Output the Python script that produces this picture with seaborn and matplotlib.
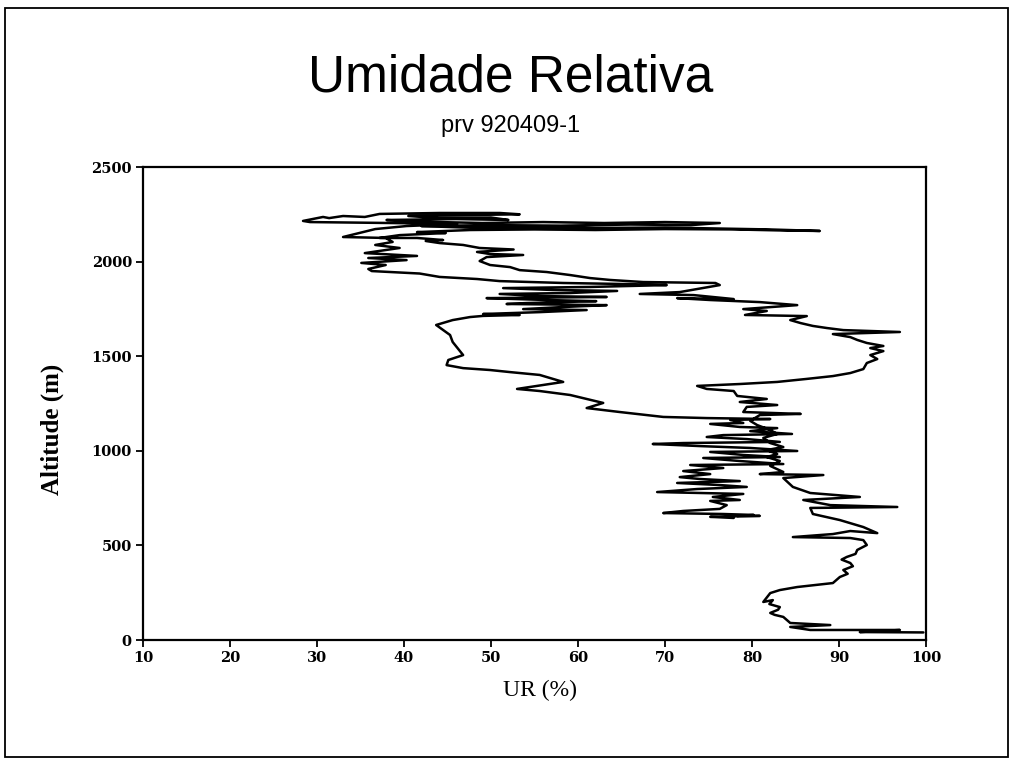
import pandas as pd
import matplotlib
matplotlib.use("Agg")
import matplotlib.pyplot as plt
from matplotlib.patches import Rectangle
import seaborn as sns

# ---------------------------------------------------------------
# Dados (UR em %, altitude em m)
# ---------------------------------------------------------------
# subida: do solo pelo lado direito ate o topo
subida_ur = [
    99.7, 92.4, 97.0, 86.7, 84.4, 89.0, 84.4, 83.6, 82.6, 82.1, 83.0, 83.2, 82.0, 82.4,
    81.3, 82.1, 83.2, 85.2, 89.3, 90.1, 91.0, 90.5, 91.6, 91.3, 90.3, 90.9, 91.9, 92.1,
    93.2, 92.8, 91.3, 84.7, 89.3, 91.3, 94.4, 92.8, 90.1, 87.0, 86.7, 96.7, 89.0, 85.9,
    92.4, 86.7, 84.7, 83.6, 88.2, 80.9,
    83.6, 82.1, 83.2, 81.7, 82.9, 81.7, 83.6, 82.1, 81.3, 82.9, 82.1, 80.6, 79.8, 80.9,
    85.6, 79.0, 79.4, 82.9, 78.6, 81.7, 78.3, 77.9, 74.8, 73.7, 78.6, 82.9, 86.3, 89.3,
    91.3, 92.8, 93.2, 94.4, 93.6, 95.1, 93.6, 95.1, 93.2, 92.1, 91.3, 89.3, 97.0, 90.5,
    88.6, 87.0, 85.6, 84.4, 86.3, 79.2, 81.7, 79.0, 85.2, 80.9, 75.2, 71.4, 77.9, 73.3,
    67.1, 71.7, 76.3, 75.8,
    70.6, 67.5, 63.7, 61.4, 59.1, 56.4, 53.3, 52.2, 49.9, 48.7, 49.5, 53.7, 49.9, 48.4,
    52.6, 48.7, 46.8, 44.1, 42.5, 44.5, 41.5, 37.2, 39.5, 44.8, 41.5, 47.6,
    55.0, 62.0, 70.0, 78.0, 83.0, 87.8, 82.0, 76.0, 70.0, 62.0, 55.0, 47.0, 42.0, 50.0,
    58.0, 66.0, 73.0, 76.3, 70.0, 63.0, 56.0, 49.0, 41.0, 38.0, 46.0, 52.0, 50.0, 44.0,
    40.5, 47.0, 53.3, 51.0, 44.1, 37.2, 35.5, 33.0, 31.4, 30.7, 29.5, 28.4, 29.2, 38.4,
    46.1, 40.3, 36.7,
]
subida_alt = [
    40, 42, 53, 53, 69, 79, 90, 122, 133, 143, 160, 174, 190, 211,
    201, 248, 264, 280, 301, 333, 350, 370, 390, 407, 425, 439, 455, 476,
    502, 528, 539, 544, 560, 576, 565, 597, 634, 666, 698, 703, 713, 740,
    756, 777, 809, 856, 872, 877,
    888, 920, 946, 967, 983, 1004, 1020, 1041, 1068, 1089, 1110, 1136, 1158, 1189,
    1195, 1205, 1232, 1242, 1258, 1274, 1290, 1316, 1327, 1343, 1353, 1364, 1380, 1395,
    1411, 1432, 1464, 1485, 1506, 1527, 1543, 1554, 1570, 1586, 1601, 1617, 1628, 1638,
    1649, 1660, 1675, 1691, 1712, 1718, 1739, 1749, 1770, 1786, 1797, 1807, 1802, 1823,
    1829, 1839, 1876, 1887,
    1890, 1892, 1903, 1913, 1929, 1945, 1955, 1971, 1982, 2003, 2024, 2035, 2040, 2051,
    2064, 2072, 2088, 2098, 2109, 2114, 2125, 2125, 2140, 2151, 2156, 2167,
    2170, 2167, 2172, 2170, 2165, 2162, 2170, 2175, 2180, 2178, 2183, 2180, 2188, 2193,
    2190, 2196, 2193, 2204, 2209, 2204, 2209, 2204, 2212, 2220, 2225, 2220, 2233, 2230,
    2241, 2246, 2250, 2257, 2257, 2252, 2236, 2241, 2230, 2236, 2225, 2215, 2209, 2204,
    2199, 2188, 2172,
]

# descida: lado esquerdo e bloco ruidoso ate ~650 m
descida_ur = [
    33.0, 37.9, 38.7, 36.7, 39.5, 35.5, 41.5, 35.9, 40.3, 35.1, 37.9, 35.9, 36.3, 41.8,
    44.1, 48.4, 51.0, 54.5, 58.3, 66.0, 70.2, 61.4, 51.4, 57.1, 64.5, 59.1, 51.0, 55.6,
    63.3, 49.5, 56.4, 62.1, 54.1, 51.8, 63.3, 58.3, 53.7, 61.0, 55.6, 49.1, 53.3, 49.1,
    47.6, 45.6, 43.7, 45.3, 45.6, 46.8, 45.1, 44.9, 46.8, 49.9, 52.2, 55.6, 58.3, 53.0,
    55.6, 59.1, 62.9, 61.0, 64.8, 69.8,
    74.8, 82.1, 77.5, 79.0, 75.2, 78.6, 82.9, 79.8, 84.6, 76.7, 74.8, 79.4, 83.2, 72.1,
    68.6, 74.0, 79.8, 85.2, 75.2, 79.0, 83.2, 74.4, 78.6, 83.6, 72.9, 76.7, 72.1, 75.2,
    71.7, 74.0, 78.6, 71.4, 76.3, 79.4, 73.7, 69.1, 74.0, 79.0, 75.5, 78.6, 75.2, 77.1,
    76.3, 72.1, 69.8, 76.7, 80.2, 78.3, 80.9, 75.2, 77.9,
]
descida_alt = [
    2130, 2125, 2104, 2088, 2072, 2045, 2030, 2019, 2008, 1993, 1982, 1961, 1950, 1937,
    1919, 1908, 1897, 1892, 1887, 1881, 1876, 1866, 1860, 1850, 1845, 1834, 1829, 1818,
    1813, 1807, 1797, 1791, 1781, 1776, 1770, 1760, 1749, 1744, 1733, 1723, 1718, 1713,
    1707, 1691, 1665, 1612, 1575, 1506, 1480, 1453, 1437, 1427, 1416, 1401, 1364, 1327,
    1316, 1295, 1253, 1226, 1205, 1179,
    1173, 1168, 1163, 1147, 1142, 1126, 1120, 1104, 1089, 1083, 1073, 1062, 1047, 1041,
    1036, 1025, 1015, 999, 994, 978, 967, 962, 946, 930, 925, 909, 893, 877,
    861, 851, 840, 830, 819, 809, 798, 782, 777, 772, 756, 740, 735, 713,
    693, 682, 671, 666, 661, 656, 656, 651, 645,
]

x_ticks = [10, 20, 30, 40, 50, 60, 70, 80, 90, 100]
y_ticks = [0, 500, 1000, 1500, 2000, 2500]

df = pd.DataFrame({
    'UR': subida_ur + descida_ur,
    'Altitude': subida_alt + descida_alt,
})

# ---------------------------------------------------------------
# Figura
# ---------------------------------------------------------------
sns.set_theme(style="white")
plt.rcParams['font.family'] = ['Liberation Serif', 'DejaVu Serif']
plt.rcParams['text.color'] = 'black'

fig = plt.figure(figsize=(10.16, 7.64), dpi=100)
fig.patch.set_facecolor('white')
ax = fig.add_axes([0.1407, 0.1623, 0.7707, 0.6191])

sns.lineplot(data=df, x='UR', y='Altitude', sort=False, estimator=None,
             color='black', linewidth=1.8, ax=ax)

ax.set_xlim(10, 100)
ax.set_ylim(0, 2500)
ax.set_xticks(x_ticks)
ax.set_yticks(y_ticks)
ax.set_xlabel('')
ax.set_ylabel('')

for side in ['left', 'bottom', 'top', 'right']:
    ax.spines[side].set_visible(True)
    ax.spines[side].set_color('black')
    ax.spines[side].set_linewidth(1.6)

ax.tick_params(axis='both', direction='out', length=5, width=1.3,
               colors='black', pad=3, bottom=True, left=True)
for lbl in ax.get_xticklabels() + ax.get_yticklabels():
    lbl.set_fontfamily('DejaVu Serif')
    lbl.set_fontweight('bold')
    lbl.set_fontsize(10.5)

# titulos e rotulos
fig.text(0.503, 1 - 78 / 764, 'Umidade Relativa', ha='center', va='center',
         fontsize=37, family='Liberation Sans', color='black')
fig.text(0.503, 1 - 126 / 764, 'prv 920409-1', ha='center', va='center',
         fontsize=17, family='Liberation Sans', color='black')
fig.text(52 / 1016, 1 - 429 / 764, 'Altitude (m)', ha='center', va='center',
         rotation=90, fontsize=18, fontweight='bold', family='Liberation Serif',
         color='black')
fig.text(540 / 1016, 1 - 690 / 764, 'UR (%)', ha='center', va='center',
         fontsize=17, family='Liberation Serif', color='black')

# moldura externa
fig.add_artist(Rectangle((5 / 1016, 1 - 757 / 764), 1003 / 1016, 749 / 764,
                         transform=fig.transFigure, fill=False,
                         edgecolor='black', linewidth=1.3))

plt.savefig('out.png', dpi=100)
plt.close()
